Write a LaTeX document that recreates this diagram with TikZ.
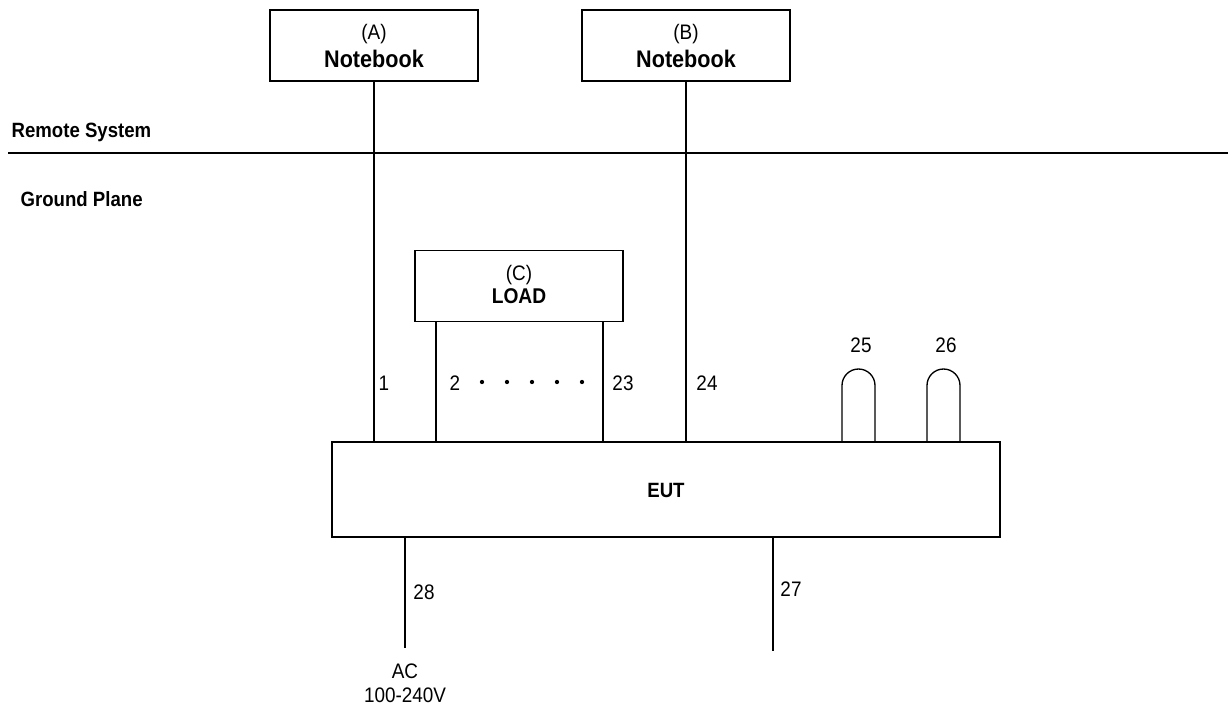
\documentclass[tikz,border=0pt]{standalone}
\usepackage{fontspec}
\setmainfont{Liberation Sans}[FakeStretch=0.9]
\newcommand\regtxt{\fontsize{15.75}{18}\selectfont}
\newcommand\bigbold{\fontsize{18}{21}\selectfont\bfseries}
\newcommand\smbold{\fontsize{15.5}{18}\selectfont\bfseries}
\begin{document}
\begin{tikzpicture}[x=0.75pt,y=-0.75pt,
  line width=1pt,
  box/.style={draw, line width=1.1pt, inner sep=0pt, minimum width=156pt, minimum height=53.5pt},
  lbl/.style={anchor=base, inner sep=0pt, font=\regtxt},
  blbl/.style={anchor=base, inner sep=0pt, font=\smbold},
  dotnode/.style={circle, fill, inner sep=0pt, minimum size=3.2pt}]
\useasboundingbox (0,0) rectangle (1228,707);
% boxes
\node[box] (A) at (374,45.5) {};
\node[box] (B) at (686,45.5) {};
\node[box] (C) at (519,286) {};
\node[box, minimum width=501pt, minimum height=71.25pt] (EUT) at (666,489.5) {};
% box texts
\node[lbl] (Ta) at (374,39.5) {(A)};
\node[anchor=base, inner sep=0pt, font=\bigbold] (Na) at (374,67) {Notebook};
\node[lbl] (Tb) at (686,39.5) {(B)};
\node[anchor=base, inner sep=0pt, font=\bigbold] (Nb) at (686,67) {Notebook};
\node[lbl] (Tc) at (519,280.5) {(C)};
\node[blbl, font=\fontsize{16}{18}\selectfont\bfseries] (Nc) at (519,303) {LOAD};
\node[blbl] (Te) at (666,497) {EUT};
% separator
\coordinate (hl) at (8,153);
\coordinate (hr) at (1228,153);
\draw (hl) -- (hr);
\node[blbl, anchor=base west] (rs) at (11,137) {Remote System};
\node[blbl, anchor=base west] (gp) at (20,206) {Ground Plane};
% cables
\draw (A.south) -- (A.south |- EUT.north);
\draw (B.south) -- (B.south |- EUT.north);
\coordinate (c2) at (436,322);
\coordinate (c23) at (603,322);
\draw (c2) -- (c2 |- EUT.north);
\draw (c23) -- (c23 |- EUT.north);
% labels
\node[lbl] (l1) at (384,390) {1};
\node[lbl] (l2) at (455,390) {2};
\foreach \xx/\nm in {482/d1,507/d2,532/d3,557/d4,582/d5}
  \node[dotnode] (\nm) at (\xx,382) {};
\node[lbl] (l23) at (623,390) {23};
\node[lbl] (l24) at (707,390) {24};
% bulbs
\coordinate (b25) at (842,385.5);
\coordinate (b26) at (927,385.5);
\draw (b25 |- EUT.north) -- (b25) arc[start angle=180, end angle=0, radius=12.375pt] -- ++(0,56.5);
\draw (b26 |- EUT.north) -- (b26) arc[start angle=180, end angle=0, radius=12.375pt] -- ++(0,56.5);
\node[lbl] (l25) at (861,352) {25};
\node[lbl] (l26) at (946,352) {26};
% bottom cables
\coordinate (ac) at (405,648);
\coordinate (gnd) at (773,651);
\draw (ac |- EUT.south) -- (ac);
\draw (gnd |- EUT.south) -- (gnd);
\node[lbl] (l28) at (424,599) {28};
\node[lbl] (l27) at (791,596) {27};
\node[lbl] (acl) at (405,678) {AC};
\node[lbl] (v) at (405,702) {100-240V};
\end{tikzpicture}
\end{document}
